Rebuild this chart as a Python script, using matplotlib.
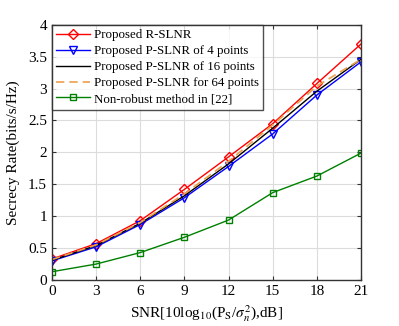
import numpy as np
import matplotlib
matplotlib.use("Agg")
import matplotlib.pyplot as plt

plt.rcParams['font.family'] = ['Liberation Serif', 'DejaVu Serif']
plt.rcParams['mathtext.fontset'] = 'stix'

# Данные
snr = [0, 3, 6, 9, 12, 15, 18, 21]
r_slnr = [0.33, 0.57, 0.93, 1.42, 1.93, 2.45, 3.08, 3.70]
p_slnr_4 = [0.30, 0.52, 0.87, 1.29, 1.78, 2.29, 2.90, 3.42]
p_slnr_16 = [0.31, 0.54, 0.89, 1.32, 1.82, 2.38, 2.96, 3.46]
p_slnr_64 = [0.32, 0.55, 0.90, 1.35, 1.86, 2.43, 3.04, 3.46]
non_robust = [0.13, 0.25, 0.43, 0.67, 0.94, 1.37, 1.63, 1.99]

labels = ['Proposed R-SLNR', 'Proposed P-SLNR of 4 points',
          'Proposed P-SLNR of 16 points', 'Proposed P-SLNR for 64 points',
          'Non-robust method in [22]']

fig = plt.figure(figsize=(3.99, 3.26), dpi=100)
ax = fig.add_axes([0.130, 0.141, 0.775, 0.783])

ax.plot(snr, r_slnr, color='red', marker='D', markersize=5, mfc='none', lw=1.0, label=labels[0])
ax.plot(snr, p_slnr_4, color='blue', marker='v', markersize=6, mfc='none', lw=1.0, label=labels[1])
ax.plot(snr, p_slnr_16, color='black', lw=1.0, label=labels[2])
ax.plot(snr, p_slnr_64, color='#EDA04A', ls=(0, (5, 3)), lw=1.2, label=labels[3])
ax.plot(snr, non_robust, color='green', marker='s', markersize=4.5, mfc='none', lw=1.0, label=labels[4])

ax.set_xlim(0, 21)
ax.set_ylim(0, 4)
ax.set_xticks(snr)
ax.set_yticks(np.arange(0, 4.01, 0.5))
ax.set_yticklabels(['0', '0.5', '1', '1.5', '2', '2.5', '3', '3.5', '4'])
ax.grid(True, color='#DCDCDC', lw=0.8)
ax.set_axisbelow(True)
ax.tick_params(direction='in', top=True, right=True, labelsize=11, length=3, color='#333333')
for s in ax.spines.values():
    s.set_color('#333333')
    s.set_linewidth(1.0)

ax.set_xlabel(r'SNR[10log$_{10}$(P$_\mathrm{S}$/$\sigma_n^2$),dB]', fontsize=11)
ax.set_ylabel('Secrecy Rate(bits/s/Hz)', fontsize=11, labelpad=6)

leg = ax.legend(loc='upper left', fontsize=9.3, fancybox=False, edgecolor='#222222',
                borderaxespad=0, handlelength=2.6, labelspacing=0.3, borderpad=0.35,
                handletextpad=0.3)
leg.get_frame().set_linewidth(1.0)

fig.savefig('out.png', dpi=100)
